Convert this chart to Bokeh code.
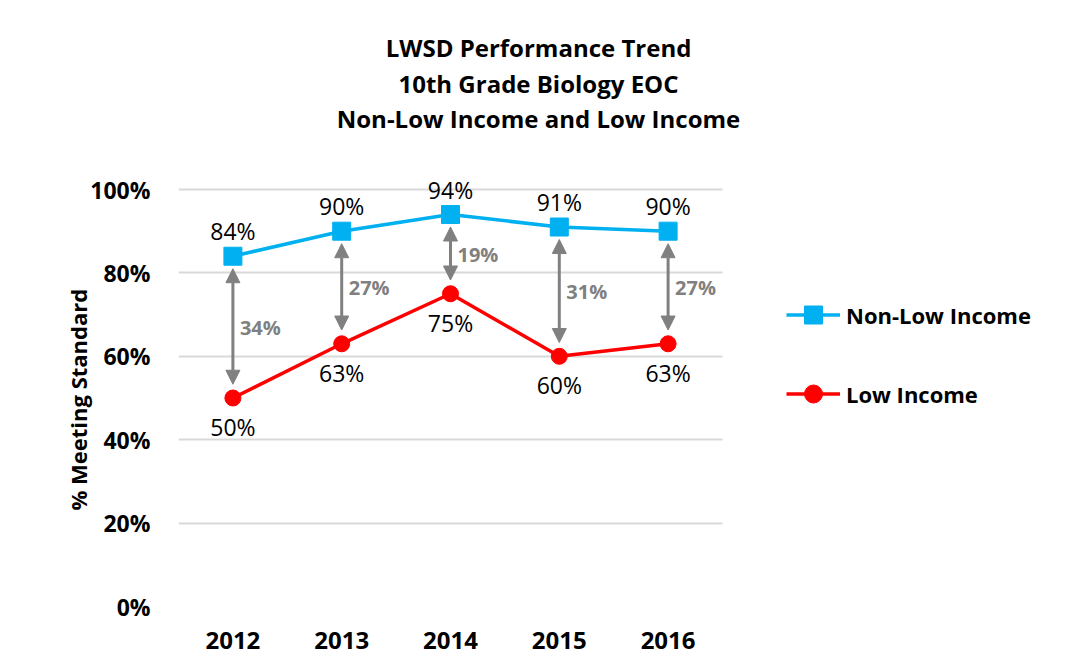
from bokeh.plotting import figure
from bokeh.models import (ColumnDataSource, Range1d, FixedTicker, Arrow, Grid, Title,
                          NormalHead, Label, Legend, LegendItem)
from bokeh.embed import file_html
from bokeh.resources import INLINE
from bokeh.core.properties import value

years = ["2012", "2013", "2014", "2015", "2016"]
non_low = [84, 90, 94, 91, 90]
low = [50, 63, 75, 60, 63]
gaps = [34, 27, 19, 31, 27]
y_ticks = [0, 20, 40, 60, 80, 100]
title_lines = ["LWSD Performance Trend", "10th Grade Biology EOC", "Non-Low Income and Low Income"]
series_names = ["Non-Low Income", "Low Income"]
y_title = "% Meeting Standard"

FONT = "Open Sans"
BLUE = "#00B0F0"
RED = "#FF0000"
GRAY = "#808080"

W, H = 1060, 660
FL, FT, FB = 178, 10, 54          # frame left / top / bottom borders
PLOT_W = 544                      # width of the category area in px
PLOT_H = 417                      # height of 0..100 in px

xs = [i + 0.5 for i in range(len(years))]
src = ColumnDataSource(dict(
    x=xs, nl=non_low, lo=low,
    nl_lab=[f"{v}%" for v in non_low],
    lo_lab=[f"{v}%" for v in low],
    gap_lab=[f"{g}%" for g in gaps],
    mid=[(a + b) / 2 for a, b in zip(non_low, low)],
    a_top=[v - 3 for v in non_low],
    a_bot=[v + 3.3 for v in low],
))

frame_w = W - FL
frame_h = H - FT - FB
p = figure(width=W, height=H,
           x_range=Range1d(0, len(years) * frame_w / PLOT_W),
           y_range=Range1d(0, 100 * frame_h / PLOT_H),
           output_backend="svg", toolbar_location=None,
           min_border_left=FL, min_border_right=0, min_border_top=FT, min_border_bottom=FB)
p.outline_line_color = None
p.background_fill_color = "white"
p.border_fill_color = "white"

# axes
p.yaxis.ticker = FixedTicker(ticks=y_ticks)
p.yaxis.major_label_overrides = {t: f"{t}%" for t in y_ticks}
p.xaxis.ticker = FixedTicker(ticks=xs)
p.xaxis.major_label_overrides = {x: y for x, y in zip(xs, years)}
for ax in (p.xaxis[0], p.yaxis[0]):
    ax.axis_line_color = None
    ax.major_tick_line_color = None
    ax.minor_tick_line_color = None
    ax.major_label_text_font = FONT
    ax.major_label_text_font_style = "bold"
    ax.major_label_text_color = "black"
p.yaxis.major_label_text_font_size = "23px"
p.xaxis.major_label_text_font_size = "24px"
p.yaxis.major_label_standoff = 22
p.xaxis.major_label_standoff = 19

# y-axis title, placed along the 0..100 span (rotated, reads bottom-to-top)
p.add_layout(Title(text=y_title, align="left", offset=96, standoff=-10, text_font=FONT,
                   text_font_style="bold", text_font_size="22px", text_color="black"), "left")

p.xgrid.grid_line_color = None
if "cross_bounds" in Grid.properties():
    p.ygrid.cross_bounds = (0, len(years))
    p.ygrid.grid_line_color = "#D9D9D9"
    p.ygrid.grid_line_width = 2
else:
    p.ygrid.grid_line_color = None
    p.segment(x0=0, x1=len(years), y0=y_ticks, y1=y_ticks, line_color="#D9D9D9", line_width=2)

# arrows between series
p.add_layout(Arrow(source=src, x_start="x", x_end="x", y_start="a_top", y_end="a_bot",
                   line_color=GRAY, line_width=3,
                   start=NormalHead(size=14, fill_color=GRAY, line_color=GRAY),
                   end=NormalHead(size=14, fill_color=GRAY, line_color=GRAY)))

# series
l1 = p.line("x", "nl", source=src, line_color=BLUE, line_width=3.5)
m1 = p.scatter("x", "nl", source=src, marker="square", size=18, fill_color=BLUE, line_color=BLUE)
l2 = p.line("x", "lo", source=src, line_color=RED, line_width=3.5)
m2 = p.scatter("x", "lo", source=src, marker="circle", size=16, fill_color=RED, line_color=RED)

# labels
p.text("x", "nl", text="nl_lab", source=src, y_offset=-25, text_align="center",
       text_baseline="middle", text_font=value(FONT), text_font_size="23px", text_color="black")
p.text("x", "lo", text="lo_lab", source=src, y_offset=29, text_align="center",
       text_baseline="middle", text_font=value(FONT), text_font_size="23px", text_color="black")
p.text("x", "mid", text="gap_lab", source=src, x_offset=7, text_align="left",
       text_baseline="middle", text_font=value(FONT), text_font_style="bold",
       text_font_size="20px", text_color=GRAY)

# title (screen units relative to frame bottom-left)
frame_bottom = H - FB
for i, t in enumerate(title_lines):
    p.add_layout(Label(x=538 - FL, y=frame_bottom - (47 + 35.5 * i), x_units="screen", y_units="screen",
                       text=t, text_align="center", text_baseline="alphabetic", text_font=FONT,
                       text_font_style="bold", text_font_size="24px", text_color="black"))

legend = Legend(items=[LegendItem(label=series_names[0], renderers=[l1, m1]),
                       LegendItem(label=series_names[1], renderers=[l2, m2])],
                location=(786 - FL, 190), orientation="vertical", glyph_width=54, glyph_height=45,
                spacing=34, padding=0, margin=0, label_standoff=6, border_line_color=None,
                background_fill_alpha=0, label_text_font=FONT, label_text_font_style="bold",
                label_text_font_size="22px", label_text_color="black")
p.add_layout(legend)

open("out.html", "w").write(file_html(p, INLINE))
